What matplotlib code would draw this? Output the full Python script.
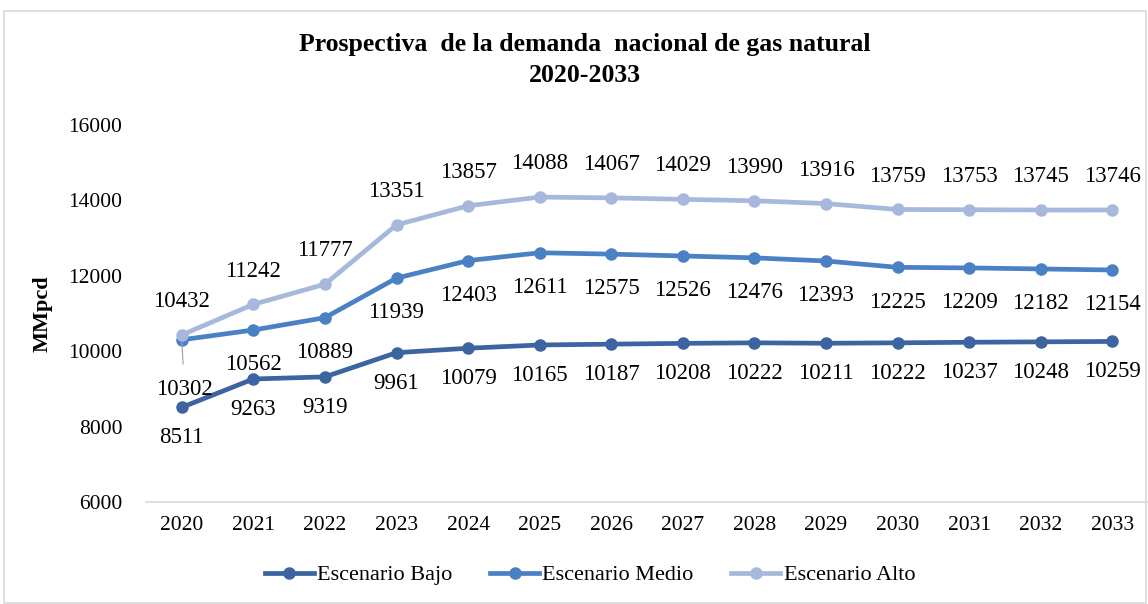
import matplotlib
matplotlib.use("Agg")
import matplotlib.pyplot as plt
from matplotlib.patches import Rectangle

years = ["2020", "2021", "2022", "2023", "2024", "2025", "2026", "2027",
         "2028", "2029", "2030", "2031", "2032", "2033"]
bajo = [8511, 9263, 9319, 9961, 10079, 10165, 10187, 10208, 10222, 10211,
        10222, 10237, 10248, 10259]
medio = [10302, 10562, 10889, 11939, 12403, 12611, 12575, 12526, 12476,
         12393, 12225, 12209, 12182, 12154]
alto = [10432, 11242, 11777, 13351, 13857, 14088, 14067, 14029, 13990,
        13916, 13759, 13753, 13745, 13746]
series_names = ["Escenario Bajo", "Escenario Medio", "Escenario Alto"]
colors = ["#3B64A0", "#4A81C4", "#A6B9DC"]
yticks = [6000, 8000, 10000, 12000, 14000, 16000]

plt.rcParams['font.family'] = ['Liberation Serif', 'DejaVu Serif']

fig = plt.figure(figsize=(11.48, 6.04), dpi=100)
ax = fig.add_axes([146/1148, 1 - 502/604, (1148 - 146)/1148, (502 - 125)/604])

x = list(range(len(years)))
data = [bajo, medio, alto]
for vals, name, c in zip(data, series_names, colors):
    ax.plot(x, vals, color=c, lw=3.4, marker='o', ms=8, label=name, zorder=3)

fs_lab = 16.5
for i, v in enumerate(alto):
    ax.annotate(str(v), (i, v), xytext=(0, 24), textcoords='offset points',
                ha='center', va='center', fontsize=fs_lab)
for i, v in enumerate(medio):
    if i == 0:
        ax.annotate(str(v), (i, v), xytext=(2, -36), textcoords='offset points',
                    ha='center', va='center', fontsize=fs_lab,
                    arrowprops=dict(arrowstyle='-', color='#A0A0A0', lw=0.8,
                                    shrinkA=9, shrinkB=2))
    else:
        ax.annotate(str(v), (i, v), xytext=(0, -25), textcoords='offset points',
                    ha='center', va='center', fontsize=fs_lab)
for i, v in enumerate(bajo):
    ax.annotate(str(v), (i, v), xytext=(0, -22), textcoords='offset points',
                ha='center', va='center', fontsize=fs_lab)

ax.set_xlim(-0.5, len(years) - 0.5)
ax.set_ylim(6000, 16000)
ax.set_yticks(yticks)
ax.set_yticklabels([str(t) for t in yticks])
ax.set_xticks(x)
ax.set_xticklabels(years)
ax.tick_params(axis='both', length=0, labelsize=15.5)
ax.tick_params(axis='y', pad=17)
ax.tick_params(axis='x', pad=10)
for s in ['top', 'right', 'left']:
    ax.spines[s].set_visible(False)
ax.spines['bottom'].set_color('#D9D9D9')
ax.spines['bottom'].set_linewidth(1.2)
ax.set_ylabel("MMpcd", fontsize=16, fontweight='bold')
ax.yaxis.set_label_coords(-0.093, 0.5)

fig.text(585/1148, 1 - 45/604, "Prospectiva  de la demanda  nacional de gas natural",
         ha='center', va='center', fontsize=18.5, fontweight='bold')
fig.text(585/1148, 1 - 76/604, "2020-2033", ha='center', va='center',
         fontsize=18.5, fontweight='bold')

fig.legend(loc='center', bbox_to_anchor=(590/1148, 1 - 575/604), ncol=3,
           frameon=False, fontsize=16, handlelength=2.2, columnspacing=1.7,
           handletextpad=0.15)

fig.patches.append(Rectangle((4/1148, 1/604), 1142/1148, 592/604,
                             transform=fig.transFigure, fill=False,
                             edgecolor='#D9D9D9', lw=1.2))

fig.savefig("out.png", dpi=100)
